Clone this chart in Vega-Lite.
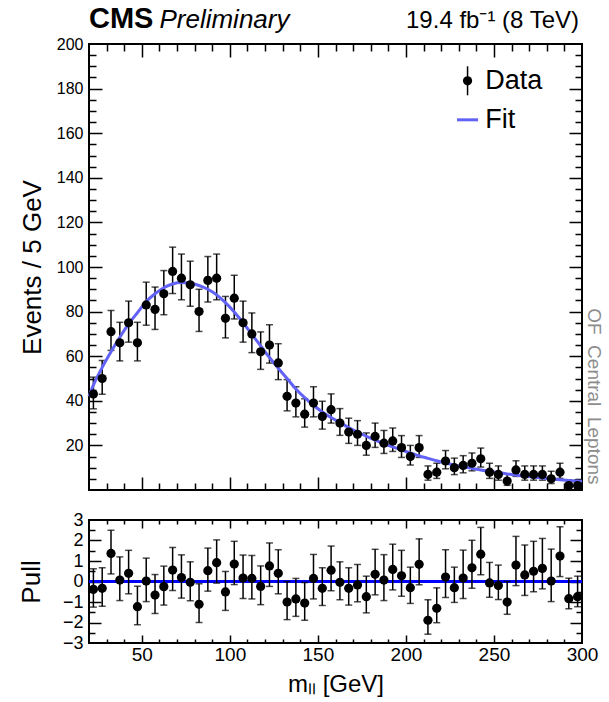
{
  "$schema": "https://vega.github.io/schema/vega-lite/v6.json",
  "padding": {"left": 17, "top": 4, "right": 5, "bottom": 2},
  "config": {
    "font": "Liberation Sans",
    "view": {"stroke": "#000", "strokeWidth": 2},
    "axis": {"domain": false, "grid": false, "tickColor": "#000", "tickWidth": 1.5, "labelColor": "#000", "titleColor": "#000", "labelFont": "Liberation Sans", "titleFont": "Liberation Sans", "titleFontWeight": "normal", "labelFlush": false, "labelOverlap": false, "labelBound": false},
    "concat": {"spacing": 18}
  },
  "datasets": {
    "hist": [
      {"m":22.5,"n":43,"lo":36.4,"hi":50.6,"pull":-0.38,"plo":-1.25,"phi":0.62},
      {"m":27.5,"n":50,"lo":42.9,"hi":58.1,"pull":-0.33,"plo":-1.21,"phi":0.67},
      {"m":32.5,"n":71,"lo":62.6,"hi":80.5,"pull":1.37,"plo":0.37,"phi":2.50},
      {"m":37.5,"n":66,"lo":57.9,"hi":75.2,"pull":0.07,"plo":-0.93,"phi":1.20},
      {"m":42.5,"n":75,"lo":66.3,"hi":84.7,"pull":0.40,"plo":-0.60,"phi":1.52},
      {"m":47.5,"n":66,"lo":57.9,"hi":75.2,"pull":-1.23,"plo":-2.11,"phi":-0.23},
      {"m":52.5,"n":83,"lo":73.9,"hi":93.2,"pull":0.02,"plo":-0.98,"phi":1.14},
      {"m":57.5,"n":81,"lo":72.0,"hi":91.0,"pull":-0.66,"plo":-1.56,"phi":0.34},
      {"m":62.5,"n":88,"lo":78.6,"hi":98.4,"pull":-0.25,"plo":-1.15,"phi":0.75},
      {"m":67.5,"n":98,"lo":88.1,"hi":108.9,"pull":0.56,"plo":-0.44,"phi":1.66},
      {"m":72.5,"n":95,"lo":85.3,"hi":105.8,"pull":0.19,"plo":-0.81,"phi":1.30},
      {"m":77.5,"n":92,"lo":82.4,"hi":102.6,"pull":-0.04,"plo":-0.94,"phi":0.96},
      {"m":82.5,"n":80,"lo":71.1,"hi":90.0,"pull":-1.11,"plo":-2.00,"phi":-0.11},
      {"m":87.5,"n":94,"lo":84.3,"hi":104.7,"pull":0.53,"plo":-0.47,"phi":1.63},
      {"m":92.5,"n":95,"lo":85.3,"hi":105.8,"pull":0.92,"plo":-0.08,"phi":2.03},
      {"m":97.5,"n":77,"lo":68.2,"hi":86.8,"pull":-0.51,"plo":-1.41,"phi":0.49},
      {"m":102.5,"n":86,"lo":76.7,"hi":96.3,"pull":0.85,"plo":-0.15,"phi":1.96},
      {"m":107.5,"n":75,"lo":66.3,"hi":84.7,"pull":0.17,"plo":-0.83,"phi":1.29},
      {"m":112.5,"n":70,"lo":61.6,"hi":79.4,"pull":0.15,"plo":-0.85,"phi":1.27},
      {"m":117.5,"n":62,"lo":54.1,"hi":70.9,"pull":-0.24,"plo":-1.13,"phi":0.76},
      {"m":122.5,"n":65,"lo":56.9,"hi":74.1,"pull":0.76,"plo":-0.24,"phi":1.88},
      {"m":127.5,"n":57,"lo":49.5,"hi":65.6,"pull":0.40,"plo":-0.60,"phi":1.55},
      {"m":132.5,"n":42,"lo":35.5,"hi":49.5,"pull":-1.00,"plo":-1.86,"phi":0.00},
      {"m":137.5,"n":39,"lo":32.8,"hi":46.3,"pull":-0.85,"plo":-1.70,"phi":0.15},
      {"m":142.5,"n":34,"lo":28.2,"hi":40.9,"pull":-1.05,"plo":-1.89,"phi":-0.05},
      {"m":147.5,"n":39,"lo":32.8,"hi":46.3,"pull":0.15,"plo":-0.85,"phi":1.32},
      {"m":152.5,"n":33,"lo":27.3,"hi":39.8,"pull":-0.33,"plo":-1.17,"phi":0.67},
      {"m":157.5,"n":36,"lo":30.0,"hi":43.1,"pull":0.55,"plo":-0.45,"phi":1.73},
      {"m":162.5,"n":30,"lo":24.5,"hi":36.5,"pull":-0.04,"plo":-0.89,"phi":0.96},
      {"m":167.5,"n":26,"lo":20.9,"hi":32.2,"pull":-0.33,"plo":-1.15,"phi":0.67},
      {"m":172.5,"n":25,"lo":20.0,"hi":31.1,"pull":-0.17,"plo":-0.99,"phi":0.83},
      {"m":177.5,"n":20,"lo":15.6,"hi":25.6,"pull":-0.74,"plo":-1.53,"phi":0.26},
      {"m":182.5,"n":24,"lo":19.1,"hi":30.0,"pull":0.35,"plo":-0.65,"phi":1.57},
      {"m":187.5,"n":21,"lo":16.4,"hi":26.7,"pull":0.07,"plo":-0.93,"phi":1.31},
      {"m":192.5,"n":22,"lo":17.3,"hi":27.8,"pull":0.59,"plo":-0.41,"phi":1.82},
      {"m":197.5,"n":19,"lo":14.6,"hi":24.4,"pull":0.28,"plo":-0.72,"phi":1.52},
      {"m":202.5,"n":15,"lo":11.2,"hi":20.0,"pull":-0.30,"plo":-1.07,"phi":0.70},
      {"m":207.5,"n":19,"lo":14.6,"hi":24.4,"pull":0.84,"plo":-0.16,"phi":2.08},
      {"m":212.5,"n":7,"lo":4.4,"hi":10.8,"pull":-1.89,"plo":-2.57,"phi":-0.89},
      {"m":217.5,"n":8,"lo":5.2,"hi":12.0,"pull":-1.31,"plo":-2.01,"phi":-0.31},
      {"m":222.5,"n":13,"lo":9.5,"hi":17.7,"pull":0.22,"plo":-0.78,"phi":1.55},
      {"m":227.5,"n":10,"lo":6.9,"hi":14.3,"pull":-0.30,"plo":-1.02,"phi":0.70},
      {"m":232.5,"n":11,"lo":7.7,"hi":15.4,"pull":0.17,"plo":-0.83,"phi":1.53},
      {"m":237.5,"n":12,"lo":8.6,"hi":16.6,"pull":0.67,"plo":-0.33,"phi":2.01},
      {"m":242.5,"n":14,"lo":10.3,"hi":18.8,"pull":1.33,"plo":0.33,"phi":2.64},
      {"m":247.5,"n":8,"lo":5.2,"hi":12.0,"pull":-0.07,"plo":-0.77,"phi":0.93},
      {"m":252.5,"n":7,"lo":4.4,"hi":10.8,"pull":-0.20,"plo":-0.88,"phi":0.80},
      {"m":257.5,"n":4,"lo":2.1,"hi":7.2,"pull":-1.00,"plo":-1.60,"phi":0.00},
      {"m":262.5,"n":9,"lo":6.1,"hi":13.1,"pull":0.80,"plo":-0.20,"phi":2.20},
      {"m":267.5,"n":7,"lo":4.4,"hi":10.8,"pull":0.32,"plo":-0.68,"phi":1.78},
      {"m":272.5,"n":7,"lo":4.4,"hi":10.8,"pull":0.50,"plo":-0.50,"phi":1.96},
      {"m":277.5,"n":7,"lo":4.4,"hi":10.8,"pull":0.64,"plo":-0.36,"phi":2.10},
      {"m":282.5,"n":5,"lo":2.9,"hi":8.4,"pull":0.02,"plo":-0.98,"phi":1.58},
      {"m":287.5,"n":8,"lo":5.2,"hi":12.0,"pull":1.24,"plo":0.24,"phi":2.67},
      {"m":292.5,"n":2,"lo":0.7,"hi":4.6,"pull":-0.84,"plo":-1.33,"phi":0.16},
      {"m":297.5,"n":2,"lo":0.7,"hi":4.6,"pull":-0.74,"plo":-1.23,"phi":0.26}
    ],
    "fit": [
      {"m":20,"f":42},{"m":22.5,"f":47},{"m":27.5,"f":55},{"m":32.5,"f":62},{"m":37.5,"f":68.5},
      {"m":42.5,"f":74.5},{"m":47.5,"f":79.5},{"m":52.5,"f":84.5},{"m":57.5,"f":88},{"m":62.5,"f":90.7},
      {"m":67.5,"f":92.4},{"m":72.5,"f":93},{"m":77.5,"f":92.8},{"m":82.5,"f":91.7},{"m":87.5,"f":90},
      {"m":92.5,"f":87.5},{"m":97.5,"f":84},{"m":102.5,"f":79.8},{"m":107.5,"f":75},{"m":112.5,"f":69.8},
      {"m":117.5,"f":64.6},{"m":122.5,"f":59.4},{"m":127.5,"f":54.6},{"m":132.5,"f":50},{"m":137.5,"f":45.3},
      {"m":142.5,"f":41.4},{"m":147.5,"f":38},{"m":152.5,"f":35},{"m":157.5,"f":32.5},{"m":162.5,"f":30.2},
      {"m":167.5,"f":28},{"m":172.5,"f":26},{"m":177.5,"f":24.1},{"m":182.5,"f":22.4},{"m":187.5,"f":20.8},
      {"m":192.5,"f":19.3},{"m":197.5,"f":17.9},{"m":202.5,"f":16.6},{"m":207.5,"f":15.3},{"m":212.5,"f":14.2},
      {"m":217.5,"f":13.1},{"m":222.5,"f":12.1},{"m":227.5,"f":11.2},{"m":232.5,"f":10.4},{"m":237.5,"f":9.7},
      {"m":242.5,"f":9.0},{"m":247.5,"f":8.4},{"m":252.5,"f":7.8},{"m":257.5,"f":7.2},{"m":262.5,"f":6.7},
      {"m":267.5,"f":6.2},{"m":272.5,"f":5.8},{"m":277.5,"f":5.4},{"m":282.5,"f":5.0},{"m":287.5,"f":4.6},
      {"m":292.5,"f":4.3},{"m":297.5,"f":4.0},{"m":300,"f":3.9}
    ]
  },
  "vconcat": [
    {
      "width": 493,
      "height": 446,
      "resolve": {"axis": {"x": "independent", "y": "independent"}},
      "layer": [
        {
          "data": {"name": "hist"},
          "mark": {"type": "rule", "color": "#000", "strokeWidth": 1.5},
          "encoding": {
            "x": {"field": "m", "type": "quantitative", "scale": {"domain": [20, 300], "nice": false, "zero": false},
                  "axis": {"orient": "bottom", "values": [50, 100, 150, 200, 250], "labels": false, "tickSize": -13, "title": null}},
            "y": {"field": "lo", "type": "quantitative", "scale": {"domain": [0, 200], "nice": false, "zero": false},
                  "axis": {"orient": "left", "values": [20, 40, 60, 80, 100, 120, 140, 160, 180, 200], "ticks": false, "labelPadding": 6, "labelFontSize": 16, "title": "Events / 5 GeV", "titleFontSize": 26, "titlePadding": 11}},
            "y2": {"field": "hi"}
          }
        },
        {
          "data": {"name": "hist"},
          "mark": {"type": "tick", "orient": "horizontal", "size": 7, "thickness": 1.5, "color": "#000"},
          "encoding": {
            "x": {"field": "m", "type": "quantitative",
                  "axis": {"orient": "bottom", "values": [30, 40, 60, 70, 80, 90, 110, 120, 130, 140, 160, 170, 180, 190, 210, 220, 230, 240, 260, 270, 280, 290], "labels": false, "tickSize": -7, "title": null}},
            "y": {"field": "lo", "type": "quantitative",
                  "axis": {"orient": "left", "values": [20, 40, 60, 80, 100, 120, 140, 160, 180], "labels": false, "tickSize": -13, "title": null}}
          }
        },
        {
          "data": {"name": "hist"},
          "mark": {"type": "tick", "orient": "horizontal", "size": 7, "thickness": 1.5, "color": "#000"},
          "encoding": {
            "x": {"field": "m", "type": "quantitative",
                  "axis": {"orient": "top", "values": [50, 100, 150, 200, 250], "labels": false, "tickSize": -13, "title": null}},
            "y": {"field": "hi", "type": "quantitative",
                  "axis": {"orient": "left", "values": [5, 10, 15, 25, 30, 35, 45, 50, 55, 65, 70, 75, 85, 90, 95, 105, 110, 115, 125, 130, 135, 145, 150, 155, 165, 170, 175, 185, 190, 195], "labels": false, "tickSize": -7, "title": null}}
          }
        },
        {
          "data": {"name": "fit"},
          "mark": {"type": "line", "interpolate": "monotone", "color": "#6262f6", "strokeWidth": 3},
          "encoding": {
            "x": {"field": "m", "type": "quantitative",
                  "axis": {"orient": "top", "values": [30, 40, 60, 70, 80, 90, 110, 120, 130, 140, 160, 170, 180, 190, 210, 220, 230, 240, 260, 270, 280, 290], "labels": false, "tickSize": -7, "title": null}},
            "y": {"field": "f", "type": "quantitative",
                  "axis": {"orient": "right", "values": [20, 40, 60, 80, 100, 120, 140, 160, 180], "labels": false, "tickSize": -13, "title": null}}
          }
        },
        {
          "data": {"name": "hist"},
          "mark": {"type": "point", "filled": true, "size": 85, "color": "#000", "opacity": 1},
          "encoding": {
            "x": {"field": "m", "type": "quantitative", "axis": null},
            "y": {"field": "n", "type": "quantitative",
                  "axis": {"orient": "right", "values": [5, 10, 15, 25, 30, 35, 45, 50, 55, 65, 70, 75, 85, 90, 95, 105, 110, 115, 125, 130, 135, 145, 150, 155, 165, 170, 175, 185, 190, 195], "labels": false, "tickSize": -7, "title": null}}
          }
        },
        {
          "data": {"values": [{}]},
          "mark": {"type": "rule", "color": "#000", "strokeWidth": 1.5},
          "encoding": {
            "x": {"datum": 235, "type": "quantitative", "axis": null},
            "y": {"datum": 177, "type": "quantitative", "axis": null},
            "y2": {"datum": 190}
          }
        },
        {
          "data": {"values": [{}]},
          "mark": {"type": "point", "filled": true, "size": 85, "color": "#000", "opacity": 1},
          "encoding": {
            "x": {"datum": 235, "type": "quantitative", "axis": null},
            "y": {"datum": 183.5, "type": "quantitative", "axis": null}
          }
        },
        {
          "data": {"values": [{}]},
          "mark": {"type": "rule", "color": "#6262f6", "strokeWidth": 3},
          "encoding": {
            "x": {"datum": 229, "type": "quantitative", "axis": null},
            "x2": {"datum": 241},
            "y": {"datum": 166, "type": "quantitative", "axis": null}
          }
        },
        {
          "data": {"values": [{}]},
          "mark": {"type": "text", "text": "Data", "fontSize": 27, "align": "left", "baseline": "middle", "color": "#000"},
          "encoding": {
            "x": {"datum": 245, "type": "quantitative", "axis": null},
            "y": {"datum": 183.5, "type": "quantitative", "axis": null}
          }
        },
        {
          "data": {"values": [{}]},
          "mark": {"type": "text", "text": "Fit", "fontSize": 27, "align": "left", "baseline": "middle", "color": "#000"},
          "encoding": {
            "x": {"datum": 245, "type": "quantitative", "axis": null},
            "y": {"datum": 166, "type": "quantitative", "axis": null}
          }
        },
        {
          "data": {"values": [{}]},
          "mark": {"type": "text", "text": "CMS", "fontSize": 29, "fontWeight": "bold", "align": "left", "baseline": "alphabetic", "dy": -16, "color": "#000"},
          "encoding": {
            "x": {"datum": 20, "type": "quantitative", "axis": null},
            "y": {"datum": 200, "type": "quantitative", "axis": null}
          }
        },
        {
          "data": {"values": [{}]},
          "mark": {"type": "text", "text": "Preliminary", "fontSize": 26, "fontStyle": "italic", "align": "left", "baseline": "alphabetic", "dy": -16, "color": "#000"},
          "encoding": {
            "x": {"datum": 60, "type": "quantitative", "axis": null},
            "y": {"datum": 200, "type": "quantitative", "axis": null}
          }
        },
        {
          "data": {"values": [{}]},
          "mark": {"type": "text", "text": "19.4 fb⁻¹ (8 TeV)", "fontSize": 24, "align": "right", "baseline": "alphabetic", "dy": -16, "dx": -3, "color": "#000"},
          "encoding": {
            "x": {"datum": 300, "type": "quantitative", "axis": null},
            "y": {"datum": 200, "type": "quantitative", "axis": null}
          }
        },
        {
          "data": {"values": [{}]},
          "mark": {"type": "text", "text": "OF\u00a0 Central\u00a0 Leptons", "fontSize": 19, "angle": 90, "align": "center", "baseline": "middle", "dy": -12, "color": "#8c8c8c"},
          "encoding": {
            "x": {"datum": 300, "type": "quantitative", "axis": null},
            "y": {"datum": 42, "type": "quantitative", "axis": null}
          }
        }
      ]
    },
    {
      "width": 493,
      "height": 123,
      "resolve": {"axis": {"x": "independent", "y": "independent"}},
      "layer": [
        {
          "data": {"values": [{}]},
          "mark": {"type": "rule", "color": "#0000ff", "strokeWidth": 3},
          "encoding": {
            "x": {"datum": 20, "type": "quantitative", "scale": {"domain": [20, 300], "nice": false, "zero": false},
                  "axis": {"orient": "top", "values": [50, 100, 150, 200, 250], "labels": false, "tickSize": -8, "title": null}},
            "x2": {"datum": 300},
            "y": {"datum": 0, "type": "quantitative", "scale": {"domain": [-3, 3], "nice": false, "zero": false},
                  "axis": {"orient": "right", "values": [-2, -1, 0, 1, 2], "labels": false, "tickSize": -12, "title": null}}
          }
        },
        {
          "data": {"name": "hist"},
          "mark": {"type": "rule", "color": "#000", "strokeWidth": 1.5},
          "encoding": {
            "x": {"field": "m", "type": "quantitative",
                  "axis": {"orient": "bottom", "values": [50, 100, 150, 200, 250, 300], "ticks": false, "labelPadding": 2, "labelFontSize": 19, "title": "mₗₗ [GeV]", "titleFontSize": 24, "titlePadding": 8}},
            "y": {"field": "plo", "type": "quantitative",
                  "axis": {"orient": "left", "values": [-3, -2, -1, 0, 1, 2, 3], "ticks": false, "labelPadding": 6, "labelFontSize": 18, "title": "Pull", "titleFontSize": 26, "titlePadding": 18}},
            "y2": {"field": "phi"}
          }
        },
        {
          "data": {"name": "hist"},
          "mark": {"type": "tick", "orient": "horizontal", "size": 7, "thickness": 1.5, "color": "#000"},
          "encoding": {
            "x": {"field": "m", "type": "quantitative",
                  "axis": {"orient": "bottom", "values": [50, 100, 150, 200, 250], "labels": false, "tickSize": -8, "title": null}},
            "y": {"field": "plo", "type": "quantitative",
                  "axis": {"orient": "left", "values": [-2, -1, 0, 1, 2], "labels": false, "tickSize": -12, "title": null}}
          }
        },
        {
          "data": {"name": "hist"},
          "mark": {"type": "tick", "orient": "horizontal", "size": 7, "thickness": 1.5, "color": "#000"},
          "encoding": {
            "x": {"field": "m", "type": "quantitative",
                  "axis": {"orient": "bottom", "values": [30, 40, 60, 70, 80, 90, 110, 120, 130, 140, 160, 170, 180, 190, 210, 220, 230, 240, 260, 270, 280, 290], "labels": false, "tickSize": -4, "title": null}},
            "y": {"field": "phi", "type": "quantitative",
                  "axis": {"orient": "left", "values": [-2.5, -1.5, -0.5, 0.5, 1.5, 2.5], "labels": false, "tickSize": -6, "title": null}}
          }
        },
        {
          "data": {"name": "hist"},
          "mark": {"type": "point", "filled": true, "size": 85, "color": "#000", "opacity": 1},
          "encoding": {
            "x": {"field": "m", "type": "quantitative",
                  "axis": {"orient": "top", "values": [30, 40, 60, 70, 80, 90, 110, 120, 130, 140, 160, 170, 180, 190, 210, 220, 230, 240, 260, 270, 280, 290], "labels": false, "tickSize": -4, "title": null}},
            "y": {"field": "pull", "type": "quantitative",
                  "axis": {"orient": "right", "values": [-2.5, -1.5, -0.5, 0.5, 1.5, 2.5], "labels": false, "tickSize": -6, "title": null}}
          }
        }
      ]
    }
  ]
}
